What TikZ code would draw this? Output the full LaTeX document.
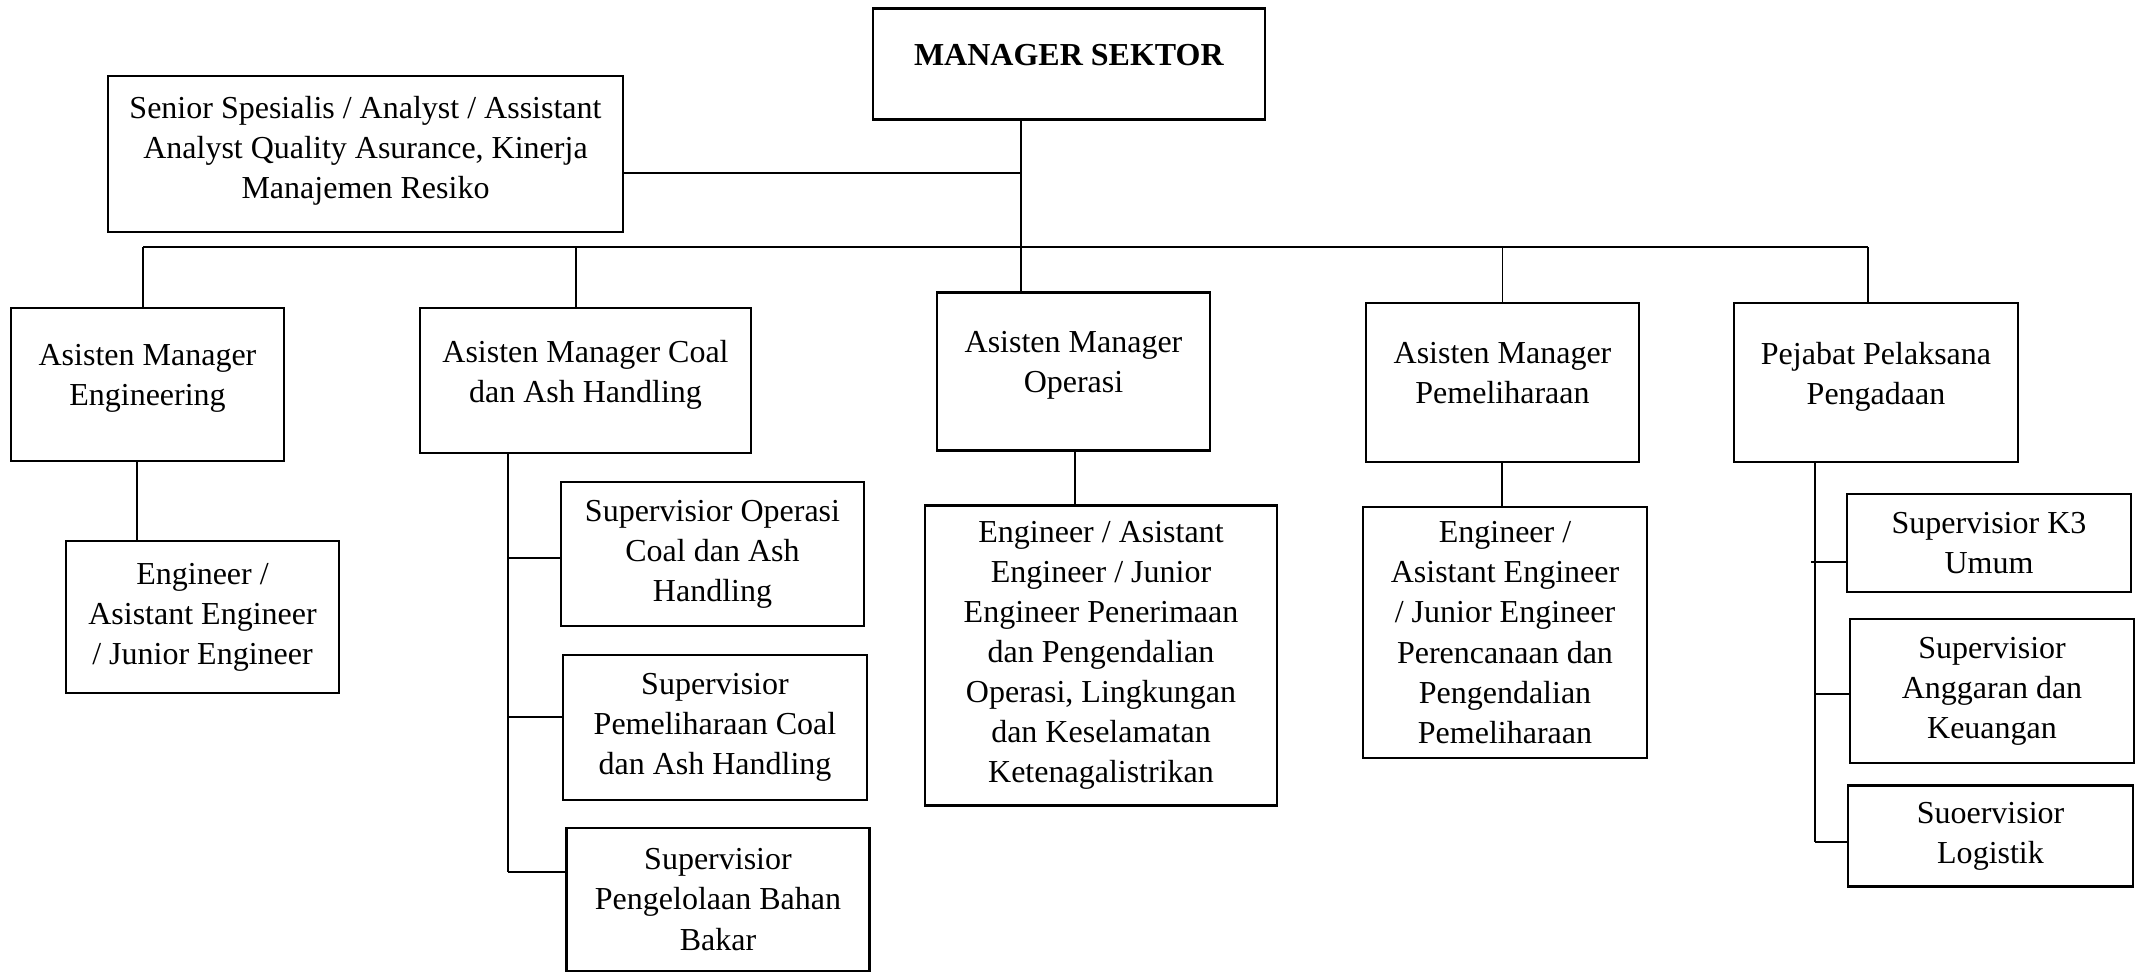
\documentclass[tikz,border=0pt]{standalone}
\usepackage{fontspec}
\setmainfont{Liberation Serif}
\usepackage{tikz}
\usetikzlibrary{positioning}

\tikzset{
  box/.style={draw, line width=0.7pt, align=center, inner sep=0pt,
              font=\fontsize{9.1}{11.4}\selectfont},
  headbox/.style={box, text depth=0.19cm},
  link/.style={line width=0.35pt}
}

\begin{document}
\begin{tikzpicture}[x=0.01cm, y=-0.01cm]
      \useasboundingbox (0,0) rectangle (2143,972);

      % Top level
      \node[headbox, minimum width=3.92cm, minimum height=1.11cm] (mgr) at (1069,64)
        {\textbf{MANAGER SEKTOR}};
      \node[box, text depth=0.13cm, minimum width=5.15cm, minimum height=1.56cm] (senior) at (365.5,154)
        {Senior Spesialis / Analyst / Assistant\\Analyst Quality Asurance, Kinerja\\Manajemen Resiko};

      % Asisten manager row
      \node[headbox, minimum width=2.73cm, minimum height=1.53cm] (ameng) at (147.5,384.5)
        {Asisten Manager\\Engineering};
      \node[headbox, minimum width=3.31cm, minimum height=1.45cm] (amcoal) at (585.5,380.5)
        {Asisten Manager Coal\\dan Ash Handling};
      \node[headbox, minimum width=2.73cm, minimum height=1.58cm] (amops) at (1073.5,371.5)
        {Asisten Manager\\Operasi};
      \node[headbox, minimum width=2.73cm, minimum height=1.59cm] (ampem) at (1502.5,382.5)
        {Asisten Manager\\Pemeliharaan};
      \node[headbox, minimum width=2.84cm, minimum height=1.59cm] (ppp) at (1876,382.5)
        {Pejabat Pelaksana\\Pengadaan};

      % Engineering
      \node[box, minimum width=2.73cm, minimum height=1.52cm] (engjr) at (202.5,617)
        {Engineer /\\Asistant Engineer\\/ Junior Engineer};

      % Coal dan ash handling
      \node[box, minimum width=3.03cm, minimum height=1.44cm] (supopc) at (712.5,554)
        {Supervisior Operasi\\Coal dan Ash\\Handling};
      \node[box, minimum width=3.04cm, minimum height=1.45cm] (suppemc) at (715,727.5)
        {Supervisior\\Pemeliharaan Coal\\dan Ash Handling};
      \node[box, minimum width=3.03cm, minimum height=1.43cm] (supbbm) at (718,899.5)
        {Supervisior\\Pengelolaan Bahan\\Bakar};

      % Operasi and pemeliharaan
      \node[box, minimum width=3.52cm, minimum height=3.0cm] (opsch) at (1101,655.5)
        {Engineer / Asistant\\Engineer / Junior\\Engineer Penerimaan\\dan Pengendalian\\Operasi, Lingkungan\\dan Keselamatan\\Ketenagalistrikan};
      \node[box, minimum width=2.84cm, minimum height=2.51cm] (pemch) at (1505,632.5)
        {Engineer /\\Asistant Engineer\\/ Junior Engineer\\Perencanaan dan\\Pengendalian\\Pemeliharaan};

      % Pengadaan
      \node[box, minimum width=2.84cm, minimum height=0.98cm] (supk3) at (1989,543)
        {Supervisior K3\\Umum};
      \node[box, minimum width=2.84cm, minimum height=1.44cm] (supang) at (1992,691)
        {Supervisior\\Anggaran dan\\Keuangan};
      \node[box, minimum width=2.85cm, minimum height=1.01cm] (suplog) at (1990.5,836)
        {Suoervisior\\Logistik};

      % Junction points
      \coordinate (spine) at (1021,173);
      \coordinate (busL) at (143,247);
      \coordinate (busR) at (1868,247);
      \coordinate (cb1) at (508,558);
      \coordinate (cb2) at (508,717);
      \coordinate (cb3) at (508,872);
      \coordinate (pb1) at (1811,562);
      \coordinate (pb2) at (1815,694);
      \coordinate (pb3) at (1815,842);

      % Manager spine and bus
      \draw[link] (mgr.south -| spine) -- (amops.north -| spine);
      \draw[link, line width=0.5pt] (senior.east |- spine) -- (spine);
      \draw[link, line width=0.5pt] (busL) -- (busR);
      \draw[link] (busL) -- (ameng.north -| busL);
      \draw[link] (576,247) -- (amcoal.north -| 576,0);
      \draw[link] (ampem.north |- busL) -- (ampem.north);
      \draw[link] (busR) -- (ppp.north -| busR);

      % Lower links
      \draw[link] (ameng.south -| 137,0) -- (engjr.north -| 137,0);
      \draw[link] (amcoal.south -| cb1) -- (cb3);
      \foreach \b/\n in {cb1/supopc, cb2/suppemc, cb3/supbbm}
        \draw[link] (\b) -- (\n.west |- \b);
      \draw[link] (amops.south -| 1075,0) -- (opsch.north -| 1075,0);
      \draw[link] (ampem.south -| 1502,0) -- (pemch.north -| 1502,0);
      \draw[link] (ppp.south -| pb3) -- (pb3);
      \foreach \b/\n in {pb1/supk3, pb2/supang, pb3/suplog}
        \draw[link] (\b) -- (\n.west |- \b);
    \end{tikzpicture}
\end{document}
